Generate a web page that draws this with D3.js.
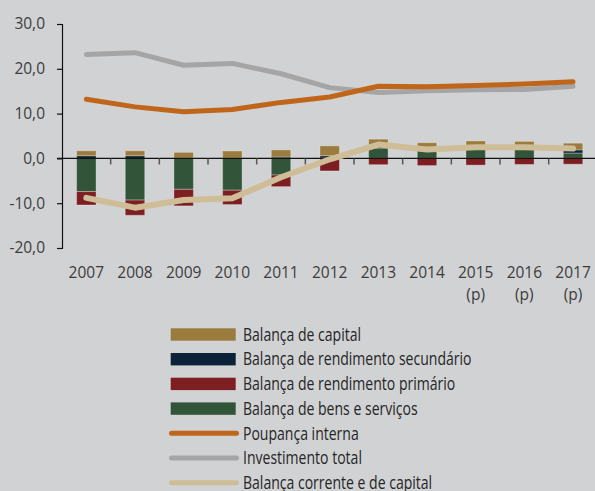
<!DOCTYPE html>
<html>
<head>
<meta charset="utf-8">
<script src="https://cdn.jsdelivr.net/npm/d3@7"></script>
<style>
  html, body { margin: 0; padding: 0; background: #d1d2d4; }
  svg { display: block; }
</style>
</head>
<body>
<div id="chart"></div>
<script>
// data (% do PIB)
const years = ["2007", "2008", "2009", "2010", "2011", "2012", "2013", "2014", "2015", "2016", "2017"];
const projected = [false, false, false, false, false, false, false, false, true, true, true];

const bensServicos    = [-7.4, -9.3, -6.9, -7.1, -3.7, 0.1, 2.3, 2.1, 2.2, 2.2, 1.2];
const rendPrimario    = [-3.0, -3.4, -3.7, -3.2, -2.6, -2.8, -1.4, -1.6, -1.5, -1.35, -1.3];
const rendSecundario  = [0.6, 0.6, 0.05, 0.05, 0.3, 0.5, 0.8, 0.4, 0.5, 0.5, 0.7];
const balCapital      = [1.1, 1.1, 1.3, 1.6, 1.6, 2.2, 1.2, 1.0, 1.2, 1.1, 1.5];

const poupancaInterna = [13.2, 11.5, 10.4, 10.9, 12.5, 13.7, 16.1, 16.0, 16.3, 16.6, 17.1];
const investimento    = [23.2, 23.6, 20.8, 21.2, 18.9, 15.8, 14.7, 15.1, 15.3, 15.4, 16.1];
const balCorrente     = [-8.8, -11.0, -9.3, -8.9, -4.2, -0.2, 3.1, 2.0, 2.5, 2.5, 2.2];

const yTicks = [-20, -10, 0, 10, 20, 30];

const barSeries = [
  { name: "Balança de bens e serviços", values: bensServicos, color: "#32553a" },
  { name: "Balança de rendimento primário", values: rendPrimario, color: "#7d1f22" },
  { name: "Balança de rendimento secundário", values: rendSecundario, color: "#0b2239" },
  { name: "Balança de capital", values: balCapital, color: "#9b7b3e" }
];
const lineSeries = [
  { name: "Investimento total", values: investimento, color: "#a5a5a6", width: 5 },
  { name: "Poupança interna", values: poupancaInterna, color: "#c0661b", width: 5 },
  { name: "Balança corrente e de capital", values: balCorrente, color: "#cebd97", width: 6 }
];
// legend order as in the original
const legendItems = [
  { name: "Balança de capital", color: "#9b7b3e", type: "bar" },
  { name: "Balança de rendimento secundário", color: "#0b2239", type: "bar" },
  { name: "Balança de rendimento primário", color: "#7d1f22", type: "bar" },
  { name: "Balança de bens e serviços", color: "#32553a", type: "bar" },
  { name: "Poupança interna", color: "#c0661b", type: "line" },
  { name: "Investimento total", color: "#a5a5a6", type: "line" },
  { name: "Balança corrente e de capital", color: "#cebd97", type: "line" }
];

const width = 595, height = 491;
const margin = { left: 62, top: 24, right: 0 };
const plotBottom = 248;

const locale = d3.formatLocale({ decimal: ",", thousands: ".", grouping: [3], currency: ["", "€"], minus: "-" });
const fmt = locale.format(".1f");

const svg = d3.select("#chart").append("svg")
    .attr("width", width)
    .attr("height", height)
    .style("font-family", "'Open Sans', sans-serif");

const x = d3.scaleBand()
    .domain(years)
    .range([margin.left, margin.left + 48.67 * years.length])
    .paddingInner(0.6)
    .paddingOuter(0.3);

const y = d3.scaleLinear().domain([-20, 30]).range([plotBottom, margin.top]);

// stacked bars (positives and negatives stacked separately)
const rows = years.map((yr, i) => {
  const r = { year: yr };
  barSeries.forEach(s => r[s.name] = s.values[i]);
  return r;
});
const stack = d3.stack()
    .keys(barSeries.map(s => s.name))
    .offset(d3.stackOffsetDiverging);
const stacked = stack(rows);

svg.append("g")
  .selectAll("g")
  .data(stacked)
  .join("g")
    .attr("fill", (d, i) => barSeries[i].color)
  .selectAll("rect")
  .data(d => d)
  .join("rect")
    .attr("x", d => x(d.data.year))
    .attr("width", x.bandwidth())
    .attr("y", d => y(Math.max(d[0], d[1])))
    .attr("height", d => Math.abs(y(d[0]) - y(d[1])))
    .attr("stroke", "rgba(255,255,255,0.3)")
    .attr("stroke-width", 1);

// y axis
const yAxis = svg.append("g")
    .attr("transform", `translate(${margin.left},0)`)
    .call(d3.axisLeft(y).tickValues(yTicks).tickFormat(fmt).tickSize(5).tickPadding(12));
yAxis.select(".domain").attr("stroke", "#111").attr("stroke-width", 1.2);
yAxis.selectAll(".tick line").attr("stroke", "#111").attr("stroke-width", 1.2);
yAxis.selectAll("text").attr("fill", "#3c3c3c").style("font-size", "15.5px")
    .style("font-family", "'Open Sans', sans-serif");

// zero line with category boundary ticks
svg.append("line")
    .attr("x1", margin.left - 5).attr("x2", width)
    .attr("y1", y(0)).attr("y2", y(0))
    .attr("stroke", "#111").attr("stroke-width", 1.2);
svg.append("g")
  .selectAll("line")
  .data(years.slice(1))
  .join("line")
    .attr("x1", d => x(d) - x.step() * x.paddingInner() / 2)
    .attr("x2", d => x(d) - x.step() * x.paddingInner() / 2)
    .attr("y1", y(0)).attr("y2", y(0) + 6)
    .attr("stroke", "#555").attr("stroke-width", 1.5);

// lines
const line = d3.line()
    .x((d, i) => x(years[i]) + x.bandwidth() / 2)
    .y(d => y(d));
svg.append("g")
  .selectAll("path")
  .data(lineSeries)
  .join("path")
    .attr("d", d => line(d.values))
    .attr("fill", "none")
    .attr("stroke", d => d.color)
    .attr("stroke-width", d => d.width)
    .attr("stroke-linecap", "round")
    .attr("stroke-linejoin", "round");

// x labels at bottom
const xLabels = svg.append("g")
  .selectAll("text")
  .data(years)
  .join("text")
    .attr("x", d => x(d) + x.bandwidth() / 2)
    .attr("y", 277.5)
    .attr("text-anchor", "middle")
    .attr("fill", "#3c3c3c")
    .style("font-size", "15.5px");
xLabels.append("tspan").text(d => d);
xLabels.filter((d, i) => projected[i])
  .append("tspan")
    .attr("x", d => x(d) + x.bandwidth() / 2)
    .attr("dy", 22)
    .text("(p)");

// legend
const legend = svg.append("g").attr("transform", "translate(170,334.5)");
const item = legend.selectAll("g")
  .data(legendItems)
  .join("g")
    .attr("transform", (d, i) => `translate(0,${i * 24.7})`);
item.filter(d => d.type === "bar")
  .append("rect")
    .attr("x", 0.7).attr("y", -6.2)
    .attr("width", 65).attr("height", 12.4)
    .attr("fill", d => d.color);
item.filter(d => d.type === "line")
  .append("line")
    .attr("x1", 1.5).attr("x2", 66.5)
    .attr("y1", 0).attr("y2", 0)
    .attr("stroke", d => d.color)
    .attr("stroke-width", 5)
    .attr("stroke-linecap", "round");
item.append("text")
    .attr("transform", "translate(73,6.2) scale(0.78,1)")
    .attr("fill", "#262626")
    .style("font-size", "18px")
    .text(d => d.name);
</script>
</body>
</html>
